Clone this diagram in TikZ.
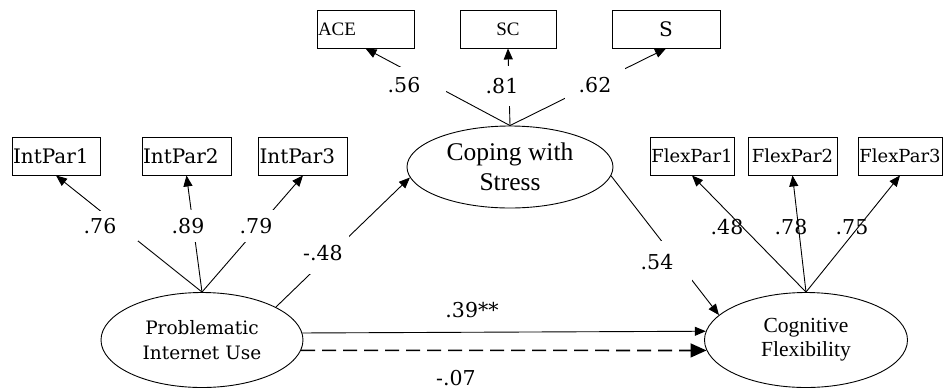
\documentclass[tikz,border=0pt]{standalone}
\usepackage{fontspec}
\setmainfont{Liberation Serif}
\newfontfamily\cambria{DejaVu Serif}
\usetikzlibrary{shapes.geometric,arrows.meta}

\tikzset{
  obs/.style={draw, line width=0.9pt, minimum height=38pt, inner xsep=1pt, inner ysep=0pt},
  item/.style={obs, font=\cambria\fontsize{18}{18}\selectfont},
  latent/.style={draw, ellipse, line width=0.9pt, inner sep=0pt, align=center},
  path/.style={line width=0.9pt, -{Triangle[length=11pt,width=9pt]}},
  coef/.style={font=\cambria\fontsize{20.5}{20.5}\selectfont, inner sep=0pt},
  gap/.style={coef, fill=white},
}

\begin{document}
\begin{tikzpicture}[x=1pt,y=-1pt]
\useasboundingbox (0,0) rectangle (943,389);

% latent variables
\node[latent, minimum width=202pt, minimum height=95pt, font=\cambria\fontsize{18.5}{25}\selectfont] (piu) at (202,340) {Problematic\\Internet Use};
\node[latent, minimum width=206pt, minimum height=82pt, font=\fontsize{25.5}{30}\selectfont] (cws) at (510,167) {Coping with\\Stress};
\node[latent, minimum width=203pt, minimum height=95pt, font=\fontsize{21.5}{24}\selectfont] (cf) at (806,340) {Cognitive\\Flexibility};

% indicators
\node[item, text width=86pt, align=left, font=\cambria\fontsize{20}{20}\selectfont] (ip1) at (56,156) {IntPar1};
\node[item, text width=87pt, align=left, font=\cambria\fontsize{20}{20}\selectfont] (ip2) at (186.5,156) {IntPar2};
\node[item, text width=87pt, align=left, font=\cambria\fontsize{20}{20}\selectfont] (ip3) at (303,156) {IntPar3};
\node[obs, text width=95pt, align=left, font=\fontsize{19}{19}\selectfont] (ace) at (365.5,29) {ACE};
\node[obs, minimum width=96pt, font=\fontsize{19}{19}\selectfont] (sc) at (508,29) {SC};
\node[item, minimum width=108pt, font=\cambria\fontsize{20}{20}\selectfont] (s) at (666,29) {S};
\node[item, minimum width=84pt] (fp1) at (692,156) {FlexPar1};
\node[item, minimum width=89pt] (fp2) at (792.5,156) {FlexPar2};
\node[item, minimum width=84pt] (fp3) at (900,156) {FlexPar3};

% loadings
\draw[path] (piu.north) -- (ip1.south);
\draw[path] (piu.north) -- (ip2.south);
\draw[path] (piu.north) -- (ip3.south);
\draw[path] (cws.north) -- (ace.south);
\draw[path] (cws.north) -- (sc.south);
\draw[path] (cws.north) -- (s.south);
\draw[path] (cf.north) -- (fp1.south);
\draw[path] (cf.north) -- (fp2.south);
\draw[path] (cf.north) -- (fp3.south);

% structural paths
\draw[path] (piu.24) -- (cws.186);
\draw[path] (cws.-5) -- (cf.164);
\draw[path] (piu.4.6) -- (cf.175.4);
\draw[line width=1.6pt, dash pattern=on 14pt off 7pt, -{Triangle[length=16pt,width=14pt]}] (piu.-6.3) -- (cf.186.3);

% coefficients
\node[gap, minimum width=76pt, minimum height=30pt] (l1) at (100,226) {.76};
\node[gap, minimum width=40pt, minimum height=32pt] (l2) at (188,226) {.89};
\node[gap, minimum width=40pt, minimum height=32pt] (l3) at (256,226) {.79};
\node[gap, minimum width=52pt, minimum height=42pt] (l4) at (323,253) {-.48};
\node[gap, minimum width=84pt, minimum height=36pt] (l5) at (404,85) {.56};
\node[gap, minimum width=44pt, minimum height=40pt] (l6) at (502,86) {.81};
\node[gap, minimum width=60pt, minimum height=34pt] (l7) at (595,85) {.62};
\node[gap, minimum width=70pt, minimum height=42pt] (l8) at (657,262) {.54};
\node[coef] (l9) at (727,227) {.48};
\node[coef] (l10) at (791,227) {.78};
\node[coef] (l11) at (852,227) {.75};
\node[coef] (l12) at (472,310) {.39**};
\node[coef] (l13) at (456,378) {-.07};
\end{tikzpicture}
\end{document}
